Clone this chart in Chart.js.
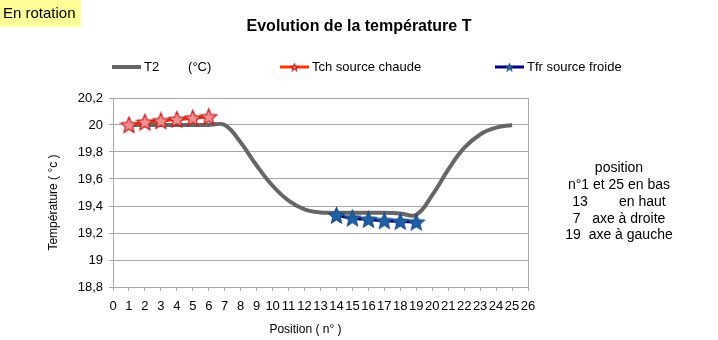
<!DOCTYPE html>
<html>
<head>
<meta charset="utf-8">
<script src="https://cdn.jsdelivr.net/npm/chart.js@4.4.0/dist/chart.umd.min.js"></script>
<style>
  html, body { margin: 0; padding: 0; background: #ffffff; }
  canvas { display: block; }
</style>
</head>
<body>
<canvas id="chart" width="718" height="340"></canvas>
<script>
// Temperature T2 along the positions 1..25
const positions = [1, 2, 3, 4, 5, 6, 7, 8, 9, 10, 11, 12, 13, 14, 15, 16, 17, 18, 19, 20, 21, 22, 23, 24, 25];
const t2Values = [20.00, 20.00, 20.00, 20.00, 20.00, 20.00, 20.00, 19.87, 19.70, 19.55, 19.44, 19.375, 19.352, 19.35, 19.35, 19.35, 19.35, 19.345, 19.335, 19.48, 19.67, 19.83, 19.93, 19.98, 20.00];

// Hot source (Tch) and cold source (Tfr)
const tchPositions = [1, 2, 3, 4, 5, 6];
const tchValues = [20.00, 20.02, 20.03, 20.04, 20.05, 20.06];
const tfrPositions = [14, 15, 16, 17, 18, 19];
const tfrValues = [19.33, 19.31, 19.30, 19.29, 19.285, 19.28];

// Axis tick labels (French decimal comma)
const yTickLabels = ['18,8', '19', '19,2', '19,4', '19,6', '19,8', '20', '20,2'];

// Series names
const seriesLabels = ['T2        (°C)', 'Tch source chaude', 'Tfr source froide'];

// Side note
const noteLines = ['position', 'n°1 et 25 en bas', '13        en haut', '7   axe à droite', '19  axe à gauche'];

const FONT = "'Liberation Sans', Arial, sans-serif";
const GRID = '#a8a8a8';

function makeStar(size, fill, stroke) {
  const c = document.createElement('canvas');
  c.width = size; c.height = size;
  const g = c.getContext('2d');
  const cx = size / 2, cy = size / 2 + 0.5, R = size / 2 - 1, r = R * 0.45;
  g.beginPath();
  for (let k = 0; k < 10; k++) {
    const a = -Math.PI / 2 + k * Math.PI / 5;
    const rad = k % 2 ? r : R;
    g.lineTo(cx + rad * Math.cos(a), cy + rad * Math.sin(a));
  }
  g.closePath();
  g.fillStyle = fill; g.fill();
  g.lineWidth = 1.2; g.strokeStyle = stroke; g.stroke();
  return c;
}

const redStar = makeStar(19, '#f09090', '#c41c1c');
const blueStar = makeStar(19, '#1f5fa6', '#1a4f8c');
const redStarSmall = makeStar(9, '#f09090', '#c41c1c');
const blueStarSmall = makeStar(9, '#2a6ab5', '#1a4f8c');

const toPoints = (xs, ys) => xs.map((x, i) => ({ x: x, y: ys[i] }));

// Title, legend, label box and side note
const decor = {
  id: 'decor',
  afterDraw(chart) {
    const ctx = chart.ctx;
    ctx.save();
    // "En rotation" label
    ctx.fillStyle = '#ffff99';
    ctx.fillRect(0, 0, 81, 27);
    ctx.fillStyle = '#000';
    ctx.font = '15px ' + FONT;
    ctx.textBaseline = 'middle';
    ctx.textAlign = 'left';
    ctx.fillText('En rotation', 3, 14);

    // chart title
    ctx.font = 'bold 16px ' + FONT;
    ctx.textAlign = 'center';
    ctx.fillText('Evolution de la température T', 359, 27);

    // legend
    const legendX = [112, 280, 495];
    const smallStars = [null, redStarSmall, blueStarSmall];
    ctx.font = '13px ' + FONT;
    ctx.textAlign = 'left';
    chart.data.datasets.forEach((ds, i) => {
      const x0 = legendX[i], y0 = 67;
      ctx.strokeStyle = ds.borderColor;
      ctx.lineWidth = ds.borderWidth;
      ctx.beginPath(); ctx.moveTo(x0, y0); ctx.lineTo(x0 + 29, y0); ctx.stroke();
      if (smallStars[i]) ctx.drawImage(smallStars[i], x0 + 14.5 - 4.5, y0 - 4.5);
      ctx.fillStyle = '#000';
      ctx.fillText(ds.label, x0 + 32, y0);
    });

    // side note
    ctx.font = '14px ' + FONT;
    ctx.textAlign = 'center';
    noteLines.forEach((t, i) => ctx.fillText(t, 619, 168 + i * 16.9));
    ctx.restore();
  }
};

new Chart(document.getElementById('chart'), {
  type: 'line',
  data: {
    datasets: [
      {
        label: seriesLabels[0],
        data: toPoints(positions, t2Values),
        borderColor: '#666666',
        borderWidth: 4,
        pointRadius: 0,
        tension: 0.4,
        order: 3
      },
      {
        label: seriesLabels[1],
        data: toPoints(tchPositions, tchValues),
        borderColor: '#ff3300',
        borderWidth: 3,
        pointStyle: redStar,
        pointRadius: 9,
        tension: 0.3,
        order: 1
      },
      {
        label: seriesLabels[2],
        data: toPoints(tfrPositions, tfrValues),
        borderColor: '#000080',
        borderWidth: 3,
        pointStyle: blueStar,
        pointRadius: 9,
        tension: 0.3,
        order: 2
      }
    ]
  },
  options: {
    responsive: false,
    animation: false,
    devicePixelRatio: 1,
    layout: { padding: { left: 40, right: 190, top: 98, bottom: 0 } },
    plugins: {
      legend: { display: false },
      title: { display: false },
      tooltip: { enabled: false }
    },
    scales: {
      x: {
        type: 'linear',
        min: 0,
        max: 26,
        ticks: {
          stepSize: 1,
          autoSkip: false,
          maxRotation: 0,
          padding: 8,
          color: '#000',
          font: { family: FONT, size: 13 }
        },
        grid: {
          color: c => (c.tick && c.tick.value === 26 ? GRID : 'rgba(0,0,0,0)'),
          tickColor: GRID,
          tickLength: 4
        },
        border: { color: GRID, width: 1 },
        title: {
          display: true,
          text: 'Position ( n° )         ',
          color: '#000',
          font: { family: FONT, size: 12 },
          padding: { top: 4, bottom: 3 }
        },
        afterFit: s => { s.height = 53; }
      },
      y: {
        type: 'linear',
        min: 18.8,
        max: 20.2,
        ticks: {
          stepSize: 0.2,
          padding: 6,
          color: '#000',
          font: { family: FONT, size: 13 },
          callback: (v, i) => yTickLabels[i]
        },
        grid: { color: GRID, tickColor: GRID, tickLength: 4 },
        border: { color: GRID, width: 1 },
        title: {
          display: true,
          text: 'Température ( °c )      ',
          color: '#000',
          font: { family: FONT, size: 12 },
          padding: { top: 6, bottom: 0 }
        },
        afterFit: s => { s.width = 73; }
      }
    }
  },
  plugins: [decor]
});
</script>
</body>
</html>
